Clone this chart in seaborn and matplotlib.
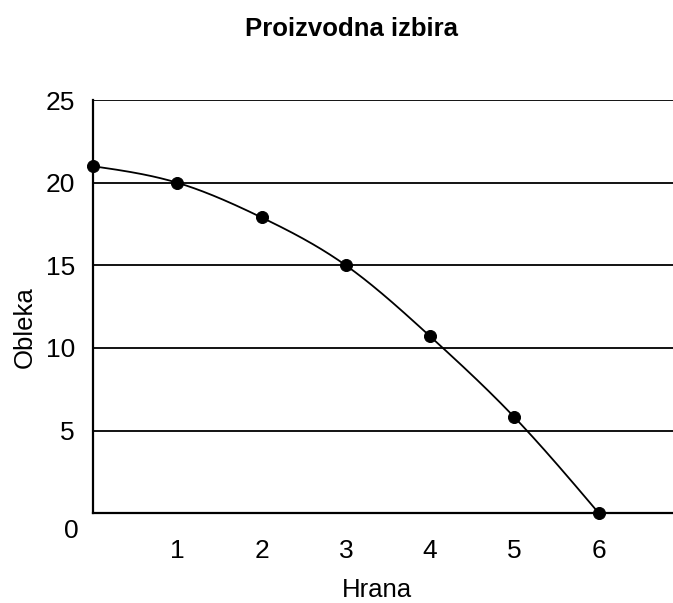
import numpy as np
import pandas as pd
import matplotlib
matplotlib.use("Agg")
import matplotlib.pyplot as plt
import seaborn as sns

hrana = [0, 1, 2, 3, 4, 5, 6]
obleka = [21, 20, 17.9, 15, 10.7, 5.8, 0]
x_ticks = [1, 2, 3, 4, 5, 6]
y_ticks = [0, 5, 10, 15, 20, 25]
title = "Proizvodna izbira"
x_label = "Hrana"
y_label = "Obleka"

sns.set_theme(style="white")
plt.rcParams["font.family"] = ["Liberation Sans", "DejaVu Sans"]
plt.rcParams["text.color"] = "black"
plt.rcParams["axes.labelcolor"] = "black"
plt.rcParams["xtick.color"] = "black"
plt.rcParams["ytick.color"] = "black"

df = pd.DataFrame({"Hrana": hrana, "Obleka": obleka})


def natural_spline(x, y, n=300):
    x = np.asarray(x, float)
    y = np.asarray(y, float)
    k = len(x)
    h = np.diff(x)
    A = np.zeros((k, k))
    b = np.zeros(k)
    A[0, 0] = 1
    A[-1, -1] = 1
    for i in range(1, k - 1):
        A[i, i - 1] = h[i - 1]
        A[i, i] = 2 * (h[i - 1] + h[i])
        A[i, i + 1] = h[i]
        b[i] = 3 * ((y[i + 1] - y[i]) / h[i] - (y[i] - y[i - 1]) / h[i - 1])
    c = np.linalg.solve(A, b)
    xs = np.linspace(x[0], x[-1], n)
    ys = np.empty_like(xs)
    for j, xv in enumerate(xs):
        i = min(np.searchsorted(x, xv, side="right") - 1, k - 2)
        dx = xv - x[i]
        bb = (y[i + 1] - y[i]) / h[i] - h[i] * (2 * c[i] + c[i + 1]) / 3
        dd = (c[i + 1] - c[i]) / (3 * h[i])
        ys[j] = y[i] + bb * dx + c[i] * dx ** 2 + dd * dx ** 3
    return xs, ys


fig = plt.figure(figsize=(6.73, 6.03), dpi=100)
ax = fig.add_axes([0.138, 0.149, 0.862, 0.685])

for yv in y_ticks[1:]:
    ax.axhline(yv, color="black", lw=1.3, zorder=1)

xs, ys = natural_spline(hrana, obleka)
sns.lineplot(x=xs, y=ys, ax=ax, color="black", lw=1.3, zorder=2)
sns.scatterplot(data=df, x="Hrana", y="Obleka", ax=ax, color="black", s=75,
                edgecolor="black", zorder=3, clip_on=False)

ax.set_xlim(0, 6.88)
ax.set_ylim(0, 25)
ax.set_xticks(x_ticks)
ax.set_xticklabels([str(t) for t in x_ticks])
ax.set_yticks(y_ticks[1:])
ax.set_yticklabels([str(t) for t in y_ticks[1:]])
ax.tick_params(axis="x", direction="inout", length=11, width=1.2,
               labelsize=19, pad=13)
ax.tick_params(axis="y", direction="out", length=8, width=1.2,
               labelsize=19, pad=5)
ax.text(-0.26, -1.1, "0", fontsize=19, ha="center", va="center")

for s in ["top", "right"]:
    ax.spines[s].set_visible(False)
for s in ["left", "bottom"]:
    ax.spines[s].set_color("black")
    ax.spines[s].set_linewidth(1.6)

ax.set_xlabel(x_label, fontsize=18.5)
ax.set_ylabel(y_label, fontsize=18.5)
ax.xaxis.label.set_va("center")
ax.yaxis.label.set_va("center")
ax.xaxis.set_label_coords(0.49, -0.186)
ax.yaxis.set_label_coords(-0.117, 0.45)
fig.text(0.522, 0.952, title, fontsize=18.5, fontweight="bold",
         ha="center", va="center")

fig.savefig("out.png", dpi=100)
